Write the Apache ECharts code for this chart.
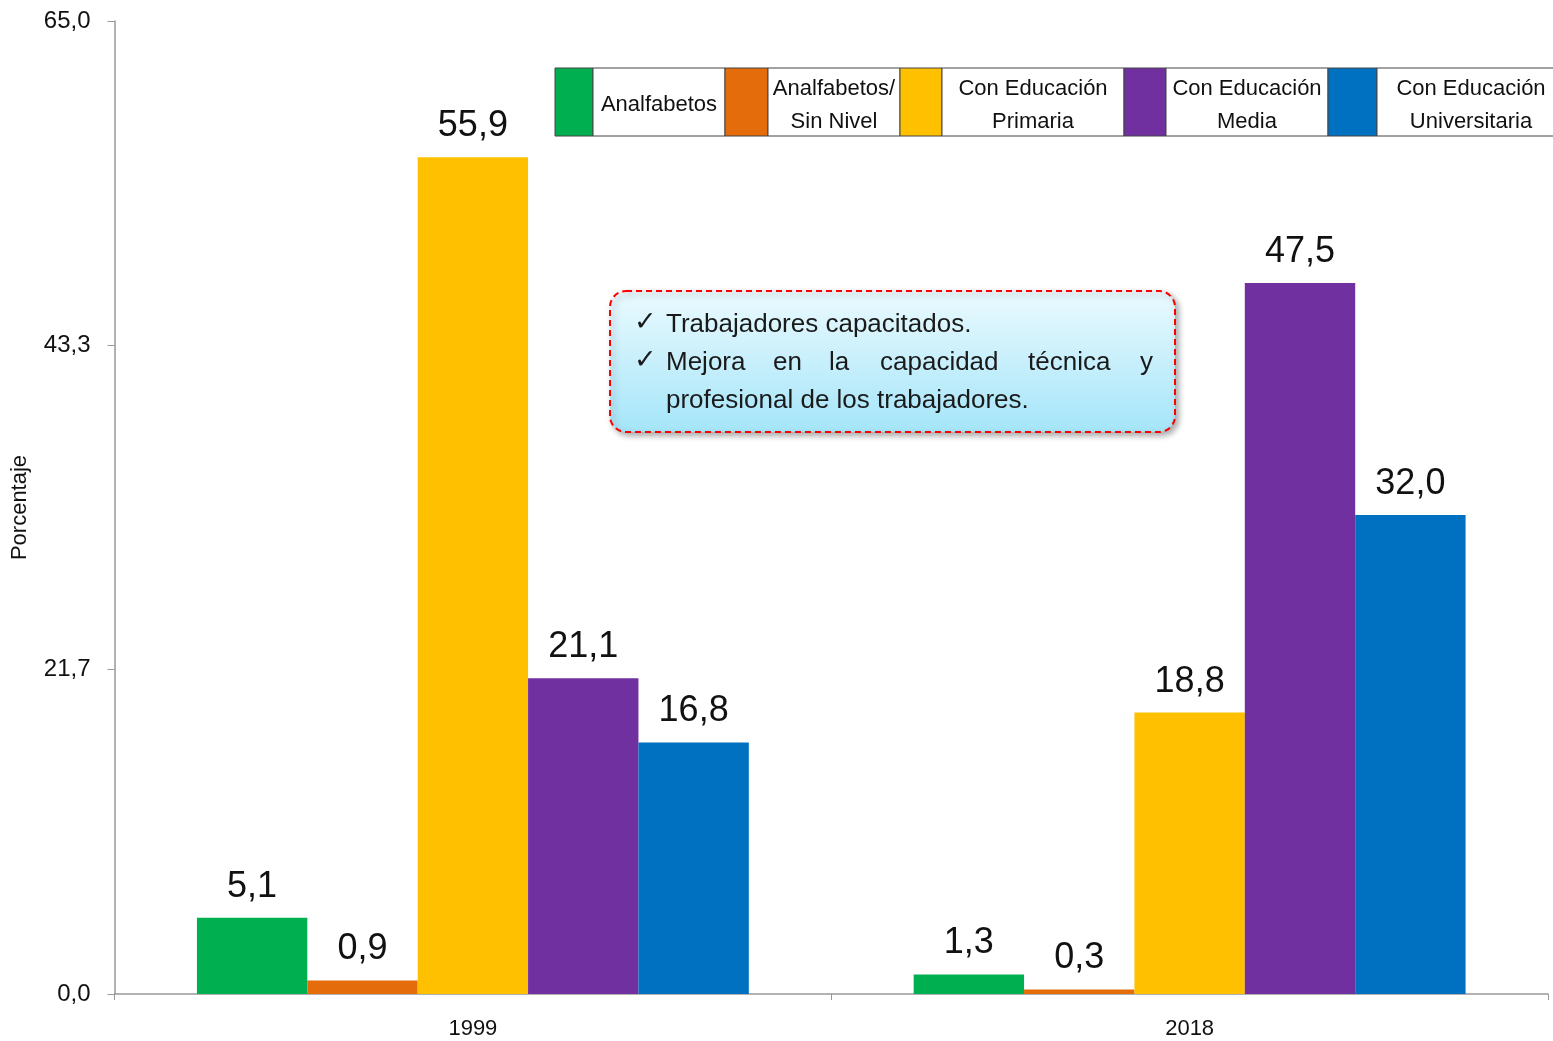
<!DOCTYPE html>
<html><head><meta charset="utf-8">
<script src="https://cdn.jsdelivr.net/npm/echarts@6/dist/echarts.min.js"></script>
<style>html,body{margin:0;padding:0;background:#fff}#c{width:1553px;height:1041px}</style>
</head><body><div id="c"></div>
<script>
const categories = ['1999', '2018'];
const seriesNames = ['Analfabetos', 'Analfabetos/\nSin Nivel', 'Con Educación\nPrimaria', 'Con Educación\nMedia', 'Con Educación\nUniversitaria'];
const seriesColors = ['#00B050', '#E46C0A', '#FFC000', '#7030A0', '#0070C0'];
const analfabetos = [5.1, 1.3];
const sinNivel = [0.9, 0.3];
const primaria = [55.9, 18.8];
const media = [21.1, 47.5];
const universitaria = [16.8, 32.0];
const yMin = 0, yMax = 65, yInterval = 65 / 3;
const boxLines = ['Trabajadores capacitados.', 'Mejora en la capacidad técnica y', 'profesional de los trabajadores.'];

const FONT = '"Liberation Sans Narrow", "Liberation Sans", Arial, sans-serif';
const fmt = v => Number(v).toFixed(1).replace('.', ',');
const values = [analfabetos, sinNivel, primaria, media, universitaria];

const series = values.map((d, i) => ({
  name: seriesNames[i], type: 'bar', data: d,
  barGap: '0%', barCategoryGap: '23%',
  itemStyle: { color: seriesColors[i] },
  label: { show: true, position: 'top', distance: 13, formatter: p => fmt(p.value),
    fontFamily: FONT, fontSize: 36, color: '#111' }
}));

// legend table built as graphics
const cells = [[555, 593, 725], [725, 768, 900], [900, 942, 1124], [1124, 1166, 1328], [1328, 1377, 1565]];
const legendTop = 68, legendBottom = 136;
const graphics = [];
cells.forEach((c, i) => {
  graphics.push({ type: 'rect', shape: { x: c[0], y: legendTop, width: c[1] - c[0], height: legendBottom - legendTop },
    style: { fill: seriesColors[i], stroke: '#444', lineWidth: 1 }, z: 10 });
  graphics.push({ type: 'rect', shape: { x: c[1], y: legendTop, width: c[2] - c[1], height: legendBottom - legendTop },
    style: { fill: '#fff', stroke: '#444', lineWidth: 1 }, z: 10 });
  graphics.push({ type: 'text', x: i === 4 ? 1471 : (c[1] + c[2]) / 2, y: (legendTop + legendBottom) / 2 + 3,
    style: { text: seriesNames[i], fontFamily: FONT, fontSize: 22, lineHeight: 33, fill: '#111',
      align: 'center', verticalAlign: 'middle' }, z: 11 });
});

// text box
graphics.push({ type: 'rect', shape: { x: 610, y: 291, width: 565, height: 141, r: 16 },
  style: { fill: { type: 'linear', x: 0, y: 0, x2: 0, y2: 1,
      colorStops: [{ offset: 0, color: '#ebfafe' }, { offset: 1, color: '#a4e5f9' }] },
    stroke: '#ff0000', lineWidth: 2, lineDash: [6, 4],
    shadowBlur: 6, shadowOffsetX: 3, shadowOffsetY: 3, shadowColor: 'rgba(0,0,0,0.35)' }, z: 10 });
const tStyle = { fontFamily: FONT, fontSize: 26, fill: '#1a1a1a', verticalAlign: 'middle' };
[323, 361].forEach(yy => graphics.push({ type: 'text', x: 634, y: yy,
  style: { text: '✓', fontFamily: 'DejaVu Sans', fontSize: 27, fontWeight: 'bold', fill: '#1a1a1a', verticalAlign: 'middle' }, z: 11 }));
graphics.push({ type: 'text', x: 666, y: 325, style: Object.assign({ text: boxLines[0] }, tStyle), z: 11 });
// justified second line
const words = boxLines[1].split(' ');
const wordX = [666, 773, 829, 880, 1028, 1140];
words.forEach((w, k) => graphics.push({ type: 'text', x: wordX[k], y: 363, style: Object.assign({ text: w }, tStyle), z: 11 }));
graphics.push({ type: 'text', x: 666, y: 401, style: Object.assign({ text: boxLines[2] }, tStyle), z: 11 });

const chart = echarts.init(document.getElementById('c'));
chart.setOption({
  animation: false,
  grid: { left: 114.5, right: 5, top: 21, bottom: 47, containLabel: false },
  legend: { show: false },
  xAxis: { type: 'category', data: categories,
    axisLine: { lineStyle: { color: '#999', width: 1.5 } },
    axisTick: { show: true, length: 6, lineStyle: { color: '#999' } },
    axisLabel: { fontFamily: FONT, fontSize: 22, color: '#111', margin: 24 } },
  yAxis: { type: 'value', min: yMin, max: yMax, interval: yInterval,
    name: 'Porcentaje', nameLocation: 'middle', nameRotate: 90, nameGap: 84,
    nameTextStyle: { fontFamily: FONT, fontSize: 22, color: '#111' },
    axisLine: { show: true, lineStyle: { color: '#999', width: 1.5 } },
    axisTick: { show: true, length: 7, lineStyle: { color: '#999' } },
    splitLine: { show: false },
    axisLabel: { fontFamily: FONT, fontSize: 24, color: '#111', margin: 24, formatter: v => fmt(v) } },
  series: series,
  graphic: graphics
});
</script></body></html>
